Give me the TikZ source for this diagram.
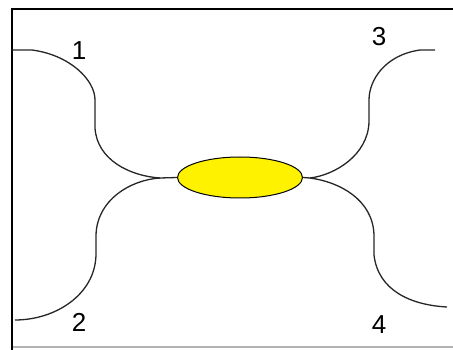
\documentclass[tikz,border=0pt]{standalone}
\usepackage{fontspec}
\setmainfont{Liberation Sans}
\usepackage{tikz}
\usetikzlibrary{shapes.geometric}

\begin{document}
\begin{tikzpicture}[
    x=1pt, y=-1pt,
    frame/.style={line width=2.6pt, black},
    fiber/.style={line width=1.3pt, black!85},
    coupler/.style={draw, ellipse, fill=yellow, line width=1pt, minimum width=125pt, minimum height=41pt, inner sep=0pt},
    port/.style={font=\fontsize{26}{26}\selectfont, inner sep=0pt}
]
    \useasboundingbox (0,0) rectangle (453,350);

    % Frame
    \draw[line width=1.5pt, black!30] (12,347) -- (453,347);
    \draw[frame] (12,350) -- (12,9) -- (453,9);

    % Coupler
    \node[coupler] (cpl) at (240,177.5) {};
    \coordinate (jl) at (160,178);
    \coordinate (jr) at (310,178);

    % Fiber ends
    \coordinate (p1) at (12,50);
    \coordinate (p2) at (15,320);
    \coordinate (p3) at (435,50);
    \coordinate (p4) at (447,307);

    % Labels
    \node[port] (l1) at (79,51) {1};
    \node[port] (l2) at (79,322) {2};
    \node[port] (l3) at (379,37) {3};
    \node[port] (l4) at (379,325) {4};

    % Fibers
    \draw[fiber] (cpl.west) -- (jl);
    \draw[fiber] (cpl.east) -- (jr);
    \draw[fiber] (p1) -- ++(20,0) .. controls (70,55) and (95,80) .. (95,100)
        -- (95,128) .. controls (97,160) and (130,176) .. (jl);
    \draw[fiber] (jl) .. controls (130,180) and (97,200) .. (96,235)
        -- (96,255) .. controls (95,295) and (55,320) .. (p2);
    \draw[fiber] (p3) -- ++(-15,0) .. controls (385,55) and (369,80) .. (369,100)
        -- (369,122) .. controls (368,155) and (335,175) .. (jr);
    \draw[fiber] (jr) .. controls (340,182) and (373,200) .. (374,235)
        -- (374,255) .. controls (378,290) and (410,305) .. (p4);
\end{tikzpicture}
\end{document}
